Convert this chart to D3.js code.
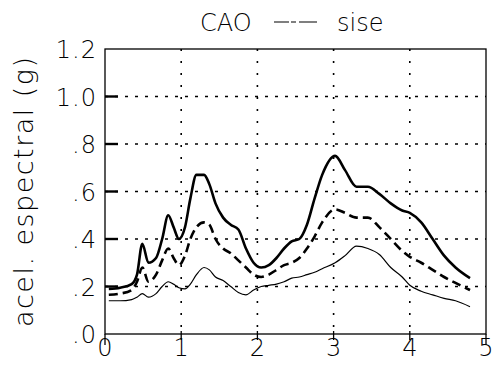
<!DOCTYPE html>
<html>
<head>
<meta charset="utf-8">
<script src="https://cdn.jsdelivr.net/npm/d3@7"></script>
<style>
  body { margin: 0; background: #fff; }
  text { font-family: "DejaVu Sans", sans-serif; font-weight: 200; fill: #000; }
</style>
</head>
<body>
<svg id="chart" width="496" height="380"></svg>
<script>
const periods = [0.05, 0.2, 0.35, 0.42, 0.49, 0.57, 0.67, 0.75, 0.83, 0.9, 0.97, 1.05, 1.12, 1.2, 1.3, 1.37,
  1.45, 1.55, 1.65, 1.75, 1.85, 1.95, 2.05, 2.15, 2.25, 2.35, 2.45, 2.55, 2.65, 2.75, 2.85, 3.02,
  3.15, 3.3, 3.45, 3.6, 3.75, 3.9, 4.0, 4.15, 4.3, 4.45, 4.6, 4.79];

const upper = [0.19, 0.195, 0.21, 0.25, 0.38, 0.30, 0.32, 0.40, 0.50, 0.45, 0.40, 0.45, 0.57, 0.67, 0.67, 0.63,
  0.55, 0.49, 0.46, 0.44, 0.36, 0.30, 0.28, 0.29, 0.32, 0.36, 0.39, 0.40, 0.46, 0.57, 0.67, 0.75,
  0.69, 0.62, 0.62, 0.59, 0.55, 0.52, 0.51, 0.47, 0.40, 0.33, 0.28, 0.235];

const middle = [0.165, 0.17, 0.185, 0.22, 0.28, 0.22, 0.25, 0.31, 0.36, 0.32, 0.29, 0.33, 0.40, 0.45, 0.47, 0.46,
  0.40, 0.36, 0.34, 0.31, 0.28, 0.25, 0.24, 0.25, 0.27, 0.29, 0.30, 0.32, 0.36, 0.41, 0.47, 0.525,
  0.51, 0.49, 0.49, 0.45, 0.40, 0.35, 0.325, 0.30, 0.27, 0.24, 0.215, 0.185];

const lower = [0.14, 0.14, 0.145, 0.155, 0.17, 0.155, 0.17, 0.20, 0.22, 0.21, 0.195, 0.19, 0.21, 0.25, 0.28, 0.27,
  0.24, 0.225, 0.20, 0.175, 0.165, 0.185, 0.20, 0.205, 0.21, 0.22, 0.235, 0.24, 0.25, 0.26, 0.275, 0.30,
  0.33, 0.37, 0.36, 0.335, 0.28, 0.24, 0.205, 0.18, 0.165, 0.15, 0.14, 0.115];

const xTicks = [0, 1, 2, 3, 4, 5];
const yTicks = [0, 0.2, 0.4, 0.6, 0.8, 1.0, 1.2];
const yTickLabels = [".0", ".2", ".4", ".6", ".8", "1.0", "1.2"];

const svg = d3.select('#chart');
const x = d3.scaleLinear().domain([0, 5]).range([105, 486]);
const y = d3.scaleLinear().domain([0, 1.2]).range([334, 49]);

// dotted grid
svg.append('g').selectAll('line')
  .data(yTicks.filter(v => v > 0 && v < 1.2)).enter().append('line')
  .attr('x1', x(0)).attr('x2', x(5))
  .attr('y1', d => y(d)).attr('y2', d => y(d))
  .attr('stroke', '#000').attr('stroke-width', 1.4)
  .attr('stroke-dasharray', '3,7');

svg.append('g').selectAll('line')
  .data(xTicks.filter(v => v > 0 && v < 5)).enter().append('line')
  .attr('x1', d => x(d)).attr('x2', d => x(d))
  .attr('y1', y(1.2)).attr('y2', y(0))
  .attr('stroke', '#000').attr('stroke-width', 1.6)
  .attr('stroke-dasharray', '2,10');

// frame
svg.append('rect')
  .attr('x', x(0)).attr('y', y(1.2))
  .attr('width', x(5) - x(0)).attr('height', y(0) - y(1.2))
  .attr('fill', 'none').attr('stroke', '#000').attr('stroke-width', 1.3);

// frame sides run below the axis at 0 and 5
svg.append('g').selectAll('line')
  .data([0, 5]).enter().append('line')
  .attr('x1', d => x(d)).attr('x2', d => x(d))
  .attr('y1', y(0)).attr('y2', y(0) + 11)
  .attr('stroke', '#000').attr('stroke-width', 1.3);

// x ticks
svg.append('g').selectAll('line')
  .data(xTicks.filter(v => v > 0 && v < 5)).enter().append('line')
  .attr('x1', d => x(d)).attr('x2', d => x(d))
  .attr('y1', y(0) - 3).attr('y2', y(0) + 6)
  .attr('stroke', '#000').attr('stroke-width', 1.3);

// y ticks (thick, inward)
svg.append('g').selectAll('line')
  .data(yTicks.filter(v => v > 0 && v < 1.2)).enter().append('line')
  .attr('x1', x(0)).attr('x2', x(0) + 13)
  .attr('y1', d => y(d)).attr('y2', d => y(d))
  .attr('stroke', '#000').attr('stroke-width', 2.4);

// tick labels
svg.append('g').selectAll('text')
  .data(xTicks).enter().append('text')
  .attr('x', d => x(d)).attr('y', 356)
  .attr('text-anchor', 'middle')
  .attr('font-size', '24px')
  .text(d => d);

svg.append('g').selectAll('text')
  .data(yTicks).enter().append('text')
  .attr('x', 97).attr('y', d => y(d) + 9)
  .attr('text-anchor', 'end')
  .attr('font-size', '24px')
  .attr('letter-spacing', '1px')
  .text((d, i) => yTickLabels[i]);

// axis title
svg.append('text')
  .attr('transform', 'translate(33,192) rotate(-90)')
  .attr('text-anchor', 'middle')
  .attr('font-size', '27px')
  .attr('textLength', 270).attr('lengthAdjust', 'spacing')
  .text('acel. espectral (g)');

// title with legend sample
svg.append('text').attr('x', 200).attr('y', 31).attr('font-size', '24px').text('CAO');
svg.append('line')
  .attr('x1', 274).attr('x2', 317).attr('y1', 22).attr('y2', 22)
  .attr('stroke', '#000').attr('stroke-width', 1.2)
  .attr('stroke-dasharray', '15,2,5,3,18');
svg.append('text').attr('x', 337).attr('y', 31).attr('font-size', '24px').text('sise');

// curves
const line = d3.line()
  .x((d, i) => x(periods[i]))
  .y(d => y(d))
  .curve(d3.curveMonotoneX);

svg.append('path').datum(lower)
  .attr('d', line).attr('fill', 'none')
  .attr('stroke', '#000').attr('stroke-width', 1.2);

svg.append('path').datum(middle)
  .attr('d', line).attr('fill', 'none')
  .attr('stroke', '#000').attr('stroke-width', 2.6)
  .attr('stroke-dasharray', '9,5');

svg.append('path').datum(upper)
  .attr('d', line).attr('fill', 'none')
  .attr('stroke', '#000').attr('stroke-width', 2.6);
</script>
</body>
</html>
